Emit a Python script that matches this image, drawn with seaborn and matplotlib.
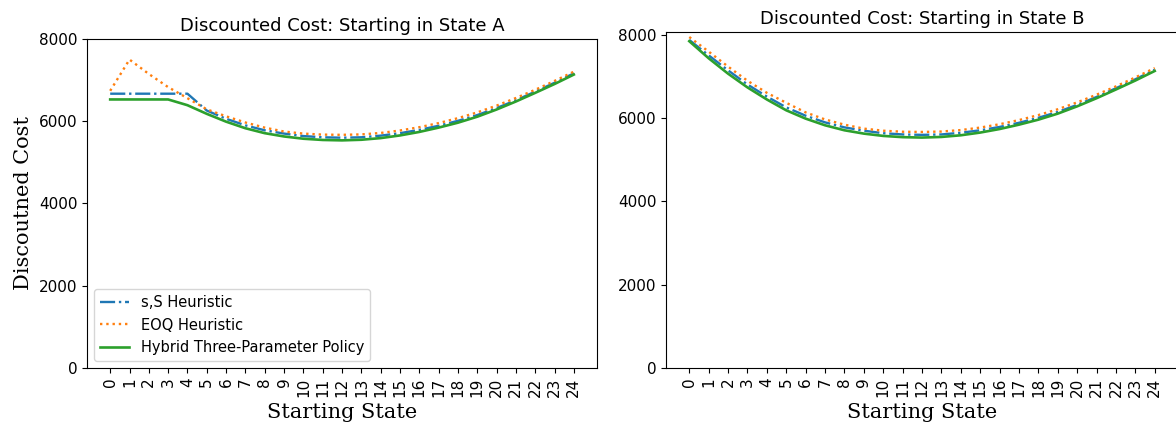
import matplotlib
matplotlib.use("Agg")
import matplotlib.pyplot as plt
import seaborn as sns
import pandas as pd

states = list(range(25))

# Starting in state A
ss_a = [6670, 6670, 6670, 6670, 6670, 6260, 6060, 5900, 5780, 5700, 5640, 5610, 5600,
        5610, 5650, 5710, 5790, 5890, 6010, 6150, 6320, 6510, 6720, 6935, 7165]
eoq_a = [6740, 7500, 7150, 6830, 6560, 6290, 6120, 5970, 5845, 5750, 5700, 5675, 5670,
         5680, 5715, 5775, 5855, 5955, 6075, 6215, 6380, 6565, 6765, 6980, 7205]
hyb_a = [6530, 6530, 6530, 6530, 6390, 6180, 5990, 5830, 5710, 5630, 5575, 5545, 5535,
         5550, 5590, 5655, 5740, 5845, 5965, 6110, 6285, 6480, 6690, 6905, 7135]

# Starting in state B
ss_b = [7880, 7510, 7150, 6810, 6520, 6260, 6060, 5900, 5780, 5700, 5640, 5610, 5600,
        5610, 5650, 5710, 5790, 5890, 6010, 6150, 6320, 6510, 6720, 6935, 7165]
eoq_b = [7950, 7600, 7240, 6900, 6610, 6370, 6140, 5970, 5845, 5750, 5700, 5675, 5670,
         5680, 5715, 5775, 5855, 5955, 6075, 6215, 6380, 6565, 6765, 6980, 7205]
hyb_b = [7850, 7440, 7070, 6740, 6450, 6190, 5990, 5830, 5710, 5630, 5575, 5545, 5535,
         5550, 5590, 5655, 5740, 5845, 5965, 6110, 6285, 6480, 6690, 6905, 7135]

labels = ["s,S Heuristic", "EOQ Heuristic", "Hybrid Three-Parameter Policy"]
styles = ["-.", ":", "-"]
colors = ["#1f77b4", "#ff7f0e", "#2ca02c"]
widths = [1.7, 1.7, 1.9]

W, H = 1176, 425
fig = plt.figure(figsize=(W / 100, H / 100), dpi=100)
ax1 = fig.add_axes([87 / W, 1 - 368 / H, 510 / W, (368 - 39) / H])
ax2 = fig.add_axes([666 / W, 1 - 368 / H, 512 / W, (368 - 32) / H])

panels = [
    (ax1, [ss_a, eoq_a, hyb_a], "Discounted Cost: Starting in State A"),
    (ax2, [ss_b, eoq_b, hyb_b], "Discounted Cost: Starting in State B"),
]

for ax, series, title in panels:
    for vals, lab, ls, c, lw in zip(series, labels, styles, colors, widths):
        df = pd.DataFrame({"state": states, "cost": vals})
        sns.lineplot(data=df, x="state", y="cost", ax=ax, label=lab,
                     linestyle=ls, color=c, linewidth=lw)
    ax.set_title(title, fontsize=13)
    ax.set_xticks(states)
    ax.set_xticklabels([str(s) for s in states], rotation=90, fontsize=11)
    ax.tick_params(axis="y", labelsize=11)
    ax.set_xlabel("Starting State", family="DejaVu Serif", fontsize=15)
    ax.set_ylabel("")

ax1.set_ylim(0, 8000)
ax1.set_yticks([0, 2000, 4000, 6000, 8000])
ax1.set_ylabel("Discoutned Cost", family="DejaVu Serif", fontsize=15)
ax1.legend(loc="lower left", fontsize=10.5)

ax2.set_ylim(bottom=0)
ax2.set_yticks([0, 2000, 4000, 6000, 8000])
ax2.get_legend().remove()

fig.savefig("out.png", dpi=100)
